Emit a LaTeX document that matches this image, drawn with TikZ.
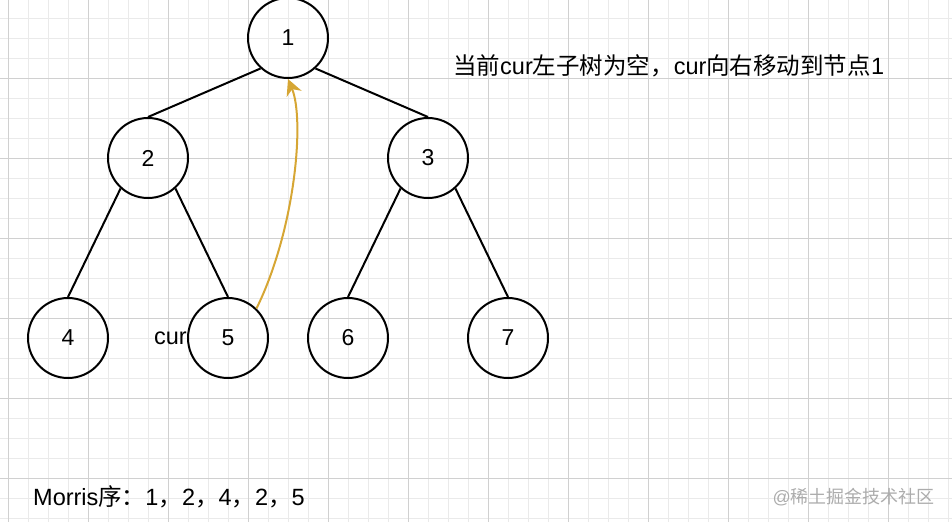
\documentclass[tikz,border=0pt]{standalone}
\usepackage{fontspec}
\setmainfont{Liberation Sans}
\newfontfamily\cjk{Noto Sans CJK SC}
\usepackage{xcolor}
\usetikzlibrary{arrows.meta}
\definecolor{gridmajor}{RGB}{208,208,208}
\definecolor{gridminor}{RGB}{234,234,234}
\definecolor{curvegold}{RGB}{214,166,52}
\definecolor{markgray}{RGB}{172,172,172}
\newcommand{\zh}[1]{{\cjk #1}}

\begin{document}
\begin{tikzpicture}[
    x=1pt, y=-1pt,
    treenode/.style={draw, circle, line width=2pt, minimum size=80pt, inner sep=0pt, font=\fontsize{23}{26}\selectfont},
    tlabel/.style={font=\fontsize{23.5}{26}\selectfont, inner sep=0pt},
    edge/.style={line width=2pt},
    gold/.style={-{Stealth[length=16pt,width=16pt,inset=5pt]}, line width=2pt, draw=curvegold}
]
\useasboundingbox (0,0) rectangle (952,522);
% grid background
\foreach \gx in {8,28,...,948} \draw[gridminor, line width=1pt] (\gx,0) -- (\gx,522);
\foreach \gy in {18,38,...,518} \draw[gridminor, line width=1pt] (0,\gy) -- (952,\gy);
\foreach \gx in {8,88,...,888} \draw[gridmajor, line width=1pt] (\gx,0) -- (\gx,522);
\foreach \gy in {78,158,...,478} \draw[gridmajor, line width=1pt] (0,\gy) -- (952,\gy);

\node[treenode] (n1) at (288,38) {1};
\node[treenode] (n2) at (148,158) {2};
\node[treenode] (n3) at (428,158) {3};
\node[treenode] (n4) at (68,338) {4};
\node[treenode] (n5) at (228,338) {5};
\node[treenode] (n6) at (348,338) {6};
\node[treenode] (n7) at (508,338) {7};

\draw[edge] (n1.228) -- (n2.north);
\draw[edge] (n1.312) -- (n3.north);
\draw[edge] (n2.228) -- (n4.north);
\draw[edge] (n2.312) -- (n5.north);
\draw[edge] (n3.228) -- (n6.north);
\draw[edge] (n3.312) -- (n7.north);

\draw[gold] (n5.46) .. controls (295,230) and (305,120) .. (n1.south);

\node[tlabel, anchor=east] (cur) at (187,338) {cur};
\node[tlabel, anchor=west] (note) at (453,66) {\zh{当前}cur\zh{左子树为空，}cur\zh{向右移动到节点}1};
\node[tlabel, anchor=west] (order) at (33,497) {Morris\zh{序：}1\zh{，}2\zh{，}4\zh{，}2\zh{，}5};
\node[font=\fontsize{18}{20}\selectfont, text=markgray, anchor=east, inner sep=0pt] (mark) at (935,497) {@\zh{稀土掘金技术社区}};
\end{tikzpicture}
\end{document}
